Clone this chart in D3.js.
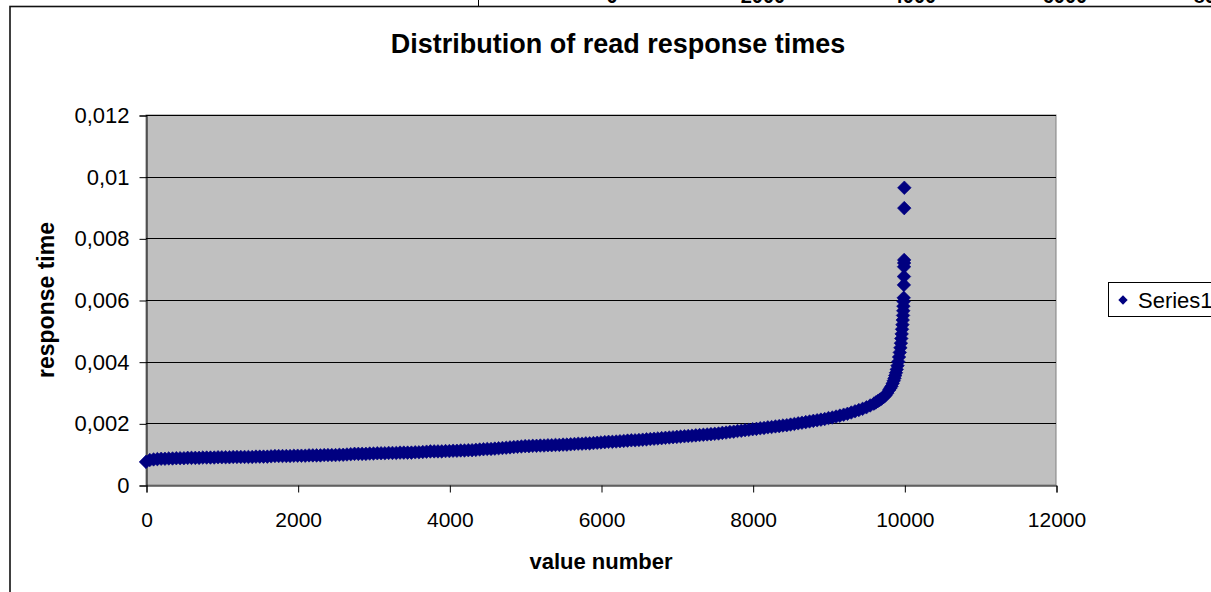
<!DOCTYPE html>
<html>
<head>
<meta charset="utf-8">
<script src="https://cdn.jsdelivr.net/npm/d3@7"></script>
<style>
  html, body { margin: 0; padding: 0; background: #fff; }
  svg { display: block; }
  text { font-family: "Liberation Sans", Arial, sans-serif; }
</style>
</head>
<body>
<svg id="chart" width="1211" height="592"></svg>
<script>
// ---- data ----
const chartTitle = "Distribution of read response times";
const xTitle = "value number";
const yTitle = "response time";
const seriesName = "Series1";
const xTicks = [0, 2000, 4000, 6000, 8000, 10000, 12000];
const yTicks = [0, 0.002, 0.004, 0.006, 0.008, 0.01, 0.012];
const topStripLabels = ["0", "2000", "4000", "6000", "8000"];
const topStripValues = [0, 2000, 4000, 6000, 8000];

const valueNumber = [
  0, 50, 100, 150, 200, 250, 300, 350, 400, 450,
  500, 550, 600, 650, 700, 750, 800, 850, 900, 950,
  1000, 1050, 1100, 1150, 1200, 1250, 1300, 1350, 1400, 1450,
  1500, 1550, 1600, 1650, 1700, 1750, 1800, 1850, 1900, 1950,
  2000, 2050, 2100, 2150, 2200, 2250, 2300, 2350, 2400, 2450,
  2500, 2550, 2600, 2650, 2700, 2750, 2800, 2850, 2900, 2950,
  3000, 3050, 3100, 3150, 3200, 3250, 3300, 3350, 3400, 3450,
  3500, 3550, 3600, 3650, 3700, 3750, 3800, 3850, 3900, 3950,
  4000, 4050, 4100, 4150, 4200, 4250, 4300, 4350, 4400, 4450,
  4500, 4550, 4600, 4650, 4700, 4750, 4800, 4850, 4900, 4950,
  5000, 5050, 5100, 5150, 5200, 5250, 5300, 5350, 5400, 5450,
  5500, 5550, 5600, 5650, 5700, 5750, 5800, 5850, 5900, 5950,
  6000, 6050, 6100, 6150, 6200, 6250, 6300, 6350, 6400, 6450,
  6500, 6550, 6600, 6650, 6700, 6750, 6800, 6850, 6900, 6950,
  7000, 7050, 7100, 7150, 7200, 7250, 7300, 7350, 7400, 7450,
  7500, 7550, 7600, 7650, 7700, 7750, 7800, 7850, 7900, 7950,
  8000, 8050, 8100, 8150, 8200, 8250, 8300, 8350, 8400, 8450,
  8500, 8550, 8600, 8650, 8700, 8750, 8800, 8850, 8900, 8950,
  9000, 9050, 9100, 9150, 9200, 9250, 9300, 9350, 9400, 9450,
  9500, 9550, 9600, 9625, 9650, 9675, 9700, 9725, 9750, 9775,
  9800, 9815, 9830, 9845, 9860, 9870, 9880, 9890, 9900, 9910,
  9920, 9930, 9940, 9948, 9955, 9960, 9965, 9970, 9975, 9979,
  9983, 9986, 9988, 9990, 9992, 9994, 9995, 9996, 9997, 9998,
  9999, 10000
];
const responseTime = [
  0.00075, 0.00081, 0.00083, 0.00084, 0.00085, 0.00085, 0.00086, 0.00086, 0.00087, 0.00087,
  0.00087, 0.00088, 0.00088, 0.00088, 0.00088, 0.00089, 0.00089, 0.00089, 0.00089, 0.00090,
  0.00090, 0.00090, 0.00090, 0.00091, 0.00091, 0.00091, 0.00091, 0.00091, 0.00091, 0.00092,
  0.00092, 0.00092, 0.00092, 0.00093, 0.00094, 0.00094, 0.00094, 0.00094, 0.00094, 0.00095,
  0.00095, 0.00095, 0.00095, 0.00096, 0.00096, 0.00096, 0.00096, 0.00097, 0.00097, 0.00097,
  0.00097, 0.00098, 0.00098, 0.00099, 0.00100, 0.00101, 0.00101, 0.00101, 0.00101, 0.00102,
  0.00102, 0.00103, 0.00103, 0.00103, 0.00104, 0.00104, 0.00104, 0.00105, 0.00105, 0.00105,
  0.00105, 0.00106, 0.00106, 0.00107, 0.00108, 0.00109, 0.00109, 0.00109, 0.00109, 0.00110,
  0.00110, 0.00111, 0.00111, 0.00112, 0.00112, 0.00113, 0.00113, 0.00114, 0.00115, 0.00116,
  0.00117, 0.00117, 0.00118, 0.00119, 0.00120, 0.00121, 0.00122, 0.00123, 0.00124, 0.00125,
  0.00126, 0.00126, 0.00127, 0.00127, 0.00128, 0.00128, 0.00129, 0.00129, 0.00130, 0.00130,
  0.00131, 0.00131, 0.00132, 0.00133, 0.00134, 0.00134, 0.00135, 0.00135, 0.00136, 0.00137,
  0.00138, 0.00139, 0.00140, 0.00140, 0.00141, 0.00142, 0.00143, 0.00144, 0.00145, 0.00145,
  0.00146, 0.00147, 0.00148, 0.00149, 0.00150, 0.00151, 0.00152, 0.00153, 0.00154, 0.00155,
  0.00156, 0.00157, 0.00158, 0.00159, 0.00160, 0.00161, 0.00162, 0.00163, 0.00164, 0.00165,
  0.00166, 0.00167, 0.00169, 0.00170, 0.00172, 0.00173, 0.00175, 0.00176, 0.00178, 0.00179,
  0.00181, 0.00182, 0.00184, 0.00185, 0.00187, 0.00188, 0.00190, 0.00191, 0.00193, 0.00194,
  0.00196, 0.00198, 0.00200, 0.00202, 0.00204, 0.00206, 0.00208, 0.00210, 0.00212, 0.00214,
  0.00217, 0.00219, 0.00222, 0.00225, 0.00228, 0.00231, 0.00235, 0.00239, 0.00243, 0.00247,
  0.00252, 0.00258, 0.00264, 0.00268, 0.00272, 0.00276, 0.00280, 0.00285, 0.00290, 0.00298,
  0.00308, 0.00314, 0.00320, 0.00329, 0.00338, 0.00346, 0.00355, 0.00364, 0.00375, 0.00387,
  0.00400, 0.00415, 0.00430, 0.00445, 0.00460, 0.00475, 0.00490, 0.00505, 0.00520, 0.00535,
  0.00550, 0.00565, 0.00580, 0.00595, 0.00607, 0.00649, 0.00676, 0.00708, 0.00720, 0.00730,
  0.00898, 0.00964
];

// ---- layout ----
const svg = d3.select("#chart");
const plot = { left: 146, right: 1056, top: 115, bottom: 485 };
const navy = "#000080";

const x = d3.scaleLinear().domain([0, 12000]).range([plot.left, plot.right]);
const y = d3.scaleLinear().domain([0, 0.012]).range([plot.bottom, plot.top]);

// top strip: remnant of the chart above
const stripX = d3.scaleLinear().domain([0, 8000]).range([612, 1216]);
svg.append("g").selectAll("text").data(topStripValues).join("text")
  .attr("x", d => stripX(d)).attr("y", 3)
  .attr("text-anchor", "middle").attr("font-size", 20).attr("font-weight", "bold")
  .attr("fill", "#000")
  .text((d, i) => topStripLabels[i]);
svg.append("line").attr("x1", 478.5).attr("x2", 478.5).attr("y1", 0).attr("y2", 6)
  .attr("stroke", "#000").attr("stroke-width", 1);

// chart area frame
svg.append("rect").attr("x", 10).attr("y", 6.5).attr("width", 1260).attr("height", 640)
  .attr("fill", "#fff").attr("stroke", "#111").attr("stroke-width", 1.6);

// title
svg.append("text").attr("x", 618).attr("y", 53).attr("text-anchor", "middle")
  .attr("font-size", 27).attr("font-weight", "bold").text(chartTitle);

// plot area
svg.append("rect").attr("x", plot.left).attr("y", plot.top)
  .attr("width", plot.right - plot.left).attr("height", plot.bottom - plot.top)
  .attr("fill", "#c0c0c0").attr("stroke", "#808080").attr("stroke-width", 1);

// gridlines
svg.append("g").selectAll("line").data(yTicks.filter(d => d > 0)).join("line")
  .attr("x1", plot.left).attr("x2", plot.right)
  .attr("y1", d => Math.round(y(d)) + 0.5).attr("y2", d => Math.round(y(d)) + 0.5)
  .attr("stroke", "#000").attr("stroke-width", 1);

const fmt = d => String(d).replace(".", ",");

// y axis
const yAxis = svg.append("g").attr("transform", `translate(${plot.left + 0.5},0.5)`)
  .call(d3.axisLeft(y).tickValues(yTicks).tickSize(7).tickPadding(10).tickFormat(fmt));
yAxis.select(".domain").attr("stroke", "#000");
yAxis.selectAll(".tick line").attr("stroke", "#000");
yAxis.selectAll(".tick text").attr("font-size", 22).attr("fill", "#000")
  .attr("font-family", "Liberation Sans, Arial, sans-serif");

// x axis
const xAxis = svg.append("g").attr("transform", `translate(0.5,${plot.bottom + 0.5})`)
  .call(d3.axisBottom(x).tickValues(xTicks).tickSize(7).tickPadding(20).tickFormat(d => String(d)));
xAxis.select(".domain").attr("stroke", "#000");
xAxis.selectAll(".tick line").attr("stroke", "#000");
xAxis.selectAll(".tick text").attr("font-size", 21).attr("fill", "#000")
  .attr("font-family", "Liberation Sans, Arial, sans-serif");

// axis titles
svg.append("text").attr("x", (plot.left + plot.right) / 2).attr("y", 569)
  .attr("text-anchor", "middle").attr("font-size", 22).attr("font-weight", "bold").text(xTitle);
svg.append("text").attr("transform", `translate(54,${(plot.top + plot.bottom) / 2}) rotate(-90)`)
  .attr("text-anchor", "middle").attr("font-size", 23).attr("font-weight", "bold").text(yTitle);

// points
const diamond = d3.symbol().type(d3.symbolSquare).size(92);
const pts = valueNumber.map((v, i) => ({ v, t: responseTime[i] }));
svg.append("g").selectAll("path").data(pts).join("path")
  .attr("d", diamond)
  .attr("transform", d => `translate(${x(d.v)},${y(d.t)}) rotate(45)`)
  .attr("fill", navy).attr("stroke", navy).attr("stroke-width", 0.6);

// legend
const lg = svg.append("g");
lg.append("rect").attr("x", 1108.5).attr("y", 282.5).attr("width", 130).attr("height", 34)
  .attr("fill", "#fff").attr("stroke", "#000").attr("stroke-width", 1);
lg.append("path").attr("d", d3.symbol().type(d3.symbolSquare).size(44))
  .attr("transform", "translate(1123,300) rotate(45)").attr("fill", navy);
lg.append("text").attr("x", 1138).attr("y", 300).attr("dy", "0.35em")
  .attr("font-size", 22).text(seriesName);
</script>
</body>
</html>
